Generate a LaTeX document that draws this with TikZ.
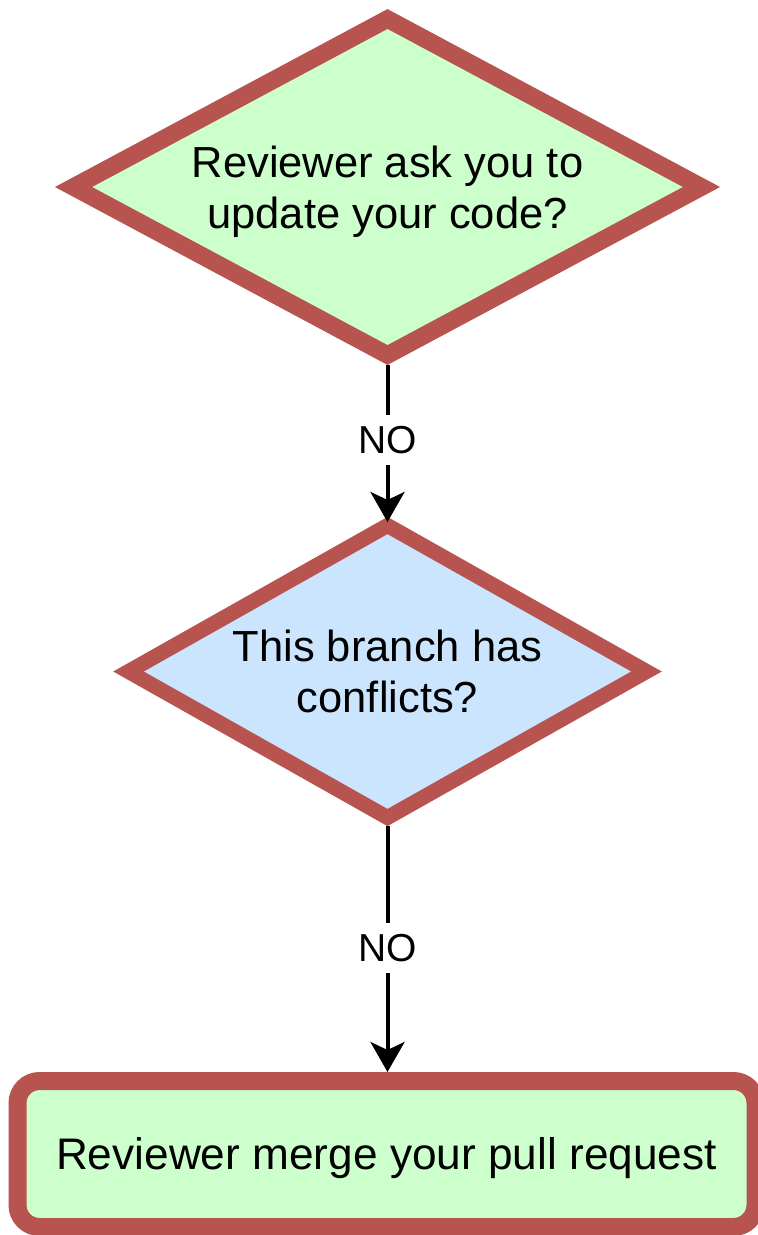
\documentclass[tikz,border=0pt]{standalone}
\usepackage{fontspec}
\setmainfont{Liberation Sans}
\usetikzlibrary{shapes.geometric,arrows.meta}
\definecolor{strokered}{HTML}{B85450}
\definecolor{fillgreen}{HTML}{CCFFCC}
\definecolor{fillblue}{HTML}{CCE5FF}
\tikzset{
  decision/.style={shape=diamond, draw=strokered, inner sep=0pt, outer sep=0pt,
    align=center, font=\fontsize{43.5}{51}\selectfont, text height=82pt, text depth=0pt},
  endbox/.style={shape=rectangle, draw=strokered, fill=fillgreen, line width=18pt,
    rounded corners=22pt, inner sep=0pt, outer sep=0pt,
    font=\fontsize{44.2}{52}\selectfont, text height=31pt, text depth=0pt},
  flowarrow/.style={line width=4pt, -{Stealth[length=30pt, width=34pt, inset=8pt]}},
  nolabel/.style={fill=white, inner xsep=3pt, inner ysep=11pt,
    font=\fontsize{39}{46}\selectfont}
}
\begin{document}
\begin{tikzpicture}[x=1pt,y=-1pt]
\useasboundingbox (0,0) rectangle (758,1235);
\node[decision, fill=fillgreen, line width=17.5pt, aspect=1.87,
  minimum width=628pt, minimum height=336pt] (d1) at (387.5,187)
  {Reviewer ask you to\\update your code?};
\node[decision, fill=fillblue, line width=15pt, aspect=1.77,
  minimum width=518pt, minimum height=292pt] (d2) at (387.5,671.5)
  {This branch has\\conflicts?};
\node[endbox, minimum width=738pt, minimum height=146pt] (r) at (386.5,1154)
  {Reviewer merge your pull request};
\draw[flowarrow, shorten <=10pt, shorten >=3.5pt] (d1.south) -- (d2.north)
  node[nolabel, pos=0.5] (l1) {NO};
\draw[flowarrow, shorten <=8pt, shorten >=9pt] (d2.south) -- (d2.south |- r.north)
  node[nolabel, pos=0.495] (l2) {NO};
\end{tikzpicture}
\end{document}
